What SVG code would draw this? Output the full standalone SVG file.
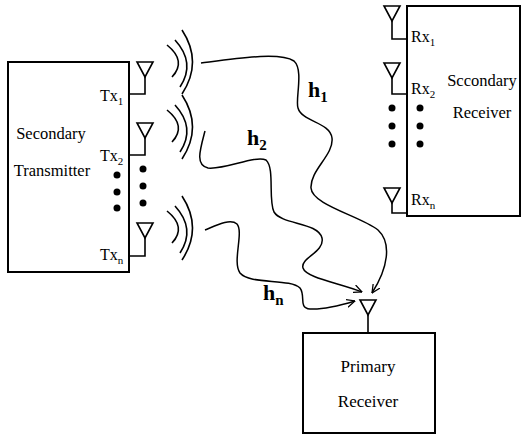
<svg xmlns="http://www.w3.org/2000/svg" width="526" height="437" viewBox="0 0 526 437">
<style>
.box{fill:#fff;stroke:#000;stroke-width:2}
.ln{fill:none;stroke:#000;stroke-width:1.6}
.wave{fill:none;stroke:#000;stroke-width:1.6}
.ant{fill:#fff;stroke:#000;stroke-width:1.6}
.t{font-family:"Liberation Serif","Times New Roman",serif;fill:#000}
.h{font-family:"Liberation Serif","Times New Roman",serif;font-weight:bold;fill:#000}
.conn{fill:none;stroke:#000;stroke-width:1.5}
</style>
<defs>
<marker id="arr" viewBox="0 0 10 10" refX="9.5" refY="5" markerWidth="9" markerHeight="9" markerUnits="userSpaceOnUse" orient="auto">
<path d="M0,0.5 L9.5,5 L0,9.5" fill="none" stroke="#000" stroke-width="1.4"/>
</marker>
<g id="antenna">
<path class="ant" d="M-8,0 L8,0 L0,15 Z"/>
</g>
<g id="waves">
<path class="wave" d="M167,-17 Q187,-1 172,15"/>
<path class="wave" d="M175,-22 Q196,1 180,25"/>
<path class="wave" d="M182,-32 Q203,0 182,32"/>
</g>
</defs>

<g id="secondary-transmitter">
<rect class="box" x="8" y="62" width="121" height="210"/>
<text class="t" x="51" y="139" font-size="16.5" text-anchor="middle">Secondary</text>
<text class="t" x="52" y="176" font-size="16.5" text-anchor="middle">Transmitter</text>
<circle cx="117" cy="175" r="3.5"/>
<circle cx="117" cy="192" r="3.5"/>
<circle cx="117" cy="208" r="3.5"/>
<text class="t" x="100" y="101" font-size="16">Tx<tspan font-size="11" dy="4">1</tspan></text>
<text class="t" x="100" y="161" font-size="16">Tx<tspan font-size="11" dy="4">2</tspan></text>
<text class="t" x="100" y="260" font-size="16">Tx<tspan font-size="11" dy="4">n</tspan></text>
</g>

<g id="tx-antennas">
<use href="#antenna" x="145" y="62"/>
<path class="ln" d="M145,77 V94 H129"/>
<use href="#antenna" x="145" y="123"/>
<path class="ln" d="M145,138 V155 H129"/>
<use href="#antenna" x="145" y="223"/>
<path class="ln" d="M145,238 V256 H129"/>
<circle cx="143" cy="169" r="3.5"/>
<circle cx="143" cy="186" r="3.5"/>
<circle cx="143" cy="203" r="3.5"/>
</g>

<g id="tx-waves">
<use href="#waves" y="62"/>
<use href="#waves" y="127"/>
<use href="#waves" y="228"/>
</g>

<g id="secondary-receiver">
<rect class="box" x="407" y="6" width="113" height="210"/>
<text class="t" x="482" y="86" font-size="16.5" text-anchor="middle">Sccondary</text>
<text class="t" x="482" y="118" font-size="16.5" text-anchor="middle">Receiver</text>
<use href="#antenna" x="392" y="6"/>
<path class="ln" d="M392,21 V39 H407"/>
<use href="#antenna" x="392" y="63"/>
<path class="ln" d="M392,78 V94 H407"/>
<use href="#antenna" x="392" y="188"/>
<path class="ln" d="M392,203 V213 H407"/>
<circle cx="392" cy="108" r="3.5"/>
<circle cx="392" cy="126" r="3.5"/>
<circle cx="392" cy="144" r="3.5"/>
<circle cx="420" cy="108" r="3.5"/>
<circle cx="420" cy="126" r="3.5"/>
<circle cx="420" cy="144" r="3.5"/>
<text class="t" x="411" y="42" font-size="16">Rx<tspan font-size="11" dy="4">1</tspan></text>
<text class="t" x="411" y="94" font-size="16">Rx<tspan font-size="11" dy="4">2</tspan></text>
<text class="t" x="411" y="205" font-size="16">Rx<tspan font-size="11" dy="4">n</tspan></text>
</g>

<g id="primary-receiver">
<rect class="box" x="303" y="333" width="132" height="100"/>
<text class="t" x="368" y="372" font-size="17" text-anchor="middle">Primary</text>
<text class="t" x="368" y="407" font-size="17" text-anchor="middle">Receiver</text>
<use href="#antenna" x="368" y="300"/>
<path class="ln" d="M368,315 V333"/>
</g>

<g id="connectors">
<path class="conn" marker-end="url(#arr)" d="M201,63 C240,58 280,52 294,61 C304,70 295,100 298,108 C302,122 330,122 332,138 C334,155 310,170 311,188 C312,205 360,216 378,230 C392,243 388,268 372,293"/>
<path class="conn" marker-end="url(#arr)" d="M205,131 C200,150 195,165 208,168 C225,170 255,155 266,160 C275,168 268,200 274,212 C282,225 318,222 322,238 C325,252 300,258 303,268 C306,278 340,283 362,292"/>
<path class="conn" marker-end="url(#arr)" d="M205,230 C215,226 230,218 237,224 C244,232 232,262 240,273 C250,285 290,278 300,288 C306,296 298,308 310,309 C325,310 345,304 355,301"/>
</g>

<g id="labels">
<text class="h" x="308" y="97" font-size="22">h<tspan font-size="15" dy="5">1</tspan></text>
<text class="h" x="247" y="145" font-size="22">h<tspan font-size="15" dy="5">2</tspan></text>
<text class="h" x="263" y="300" font-size="22">h<tspan font-size="15" dy="5">n</tspan></text>
</g>
</svg>
